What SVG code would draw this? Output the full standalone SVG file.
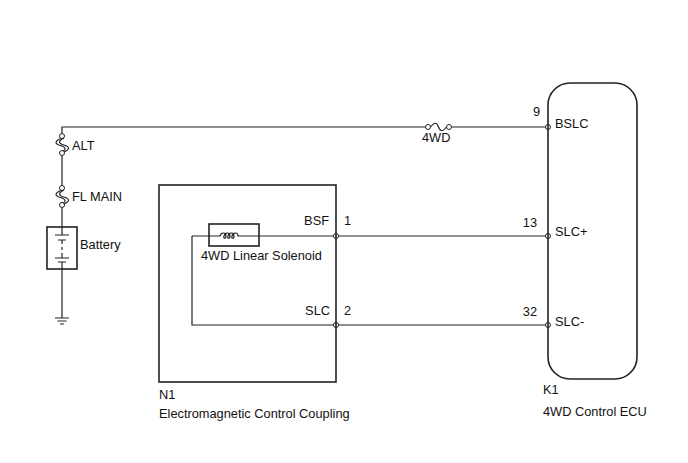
<svg xmlns="http://www.w3.org/2000/svg" width="688" height="463" viewBox="0 0 688 463">
<style>
.w{fill:none;stroke:#222;stroke-width:1.2}
.b{fill:none;stroke:#222;stroke-width:1.6}
.pin{fill:#fff;stroke:#222;stroke-width:1}
text{font-family:"Liberation Sans",Arial,sans-serif;font-size:12.8px;fill:#111}
.r{text-anchor:end}
</style>
<defs>
<g id="vfuse">
<circle class="pin" cx="0" cy="0" r="2.5"/>
<path class="w" d="M-1.5,2.5 c-6,3 -6,5 0,7 c6,2 6,4 0,7 M2,2 c-6,3 -6,5 0,7 c6,2 6,4 0,7"/>
<circle class="pin" cx="0" cy="17" r="2.5"/>
</g>
</defs>
<rect width="688" height="463" fill="#fff"/>
<g id="connectors">
<path class="w" d="M62,133.5 V127 H425.5 M430.5,127 c4,-5 6,-5 8,0 c2,5 4,5 8,0 M451.5,127 H545.5"/>
<path class="w" d="M62,155.5 V185.5 M62,207.5 V227 M62,269 V318"/>
<path class="w" d="M192,236 H209 M259,236 H545.5 M192,236 V325 H545.5"/>
<circle class="pin" cx="428" cy="127" r="2.5"/>
<circle class="pin" cx="449" cy="127" r="2.5"/>
<circle class="pin" cx="548" cy="127" r="2.5"/>
<circle class="pin" cx="336" cy="236" r="2.5"/>
<circle class="pin" cx="548" cy="236" r="2.5"/>
<circle class="pin" cx="336" cy="325" r="2.5"/>
<circle class="pin" cx="548" cy="325" r="2.5"/>
</g>
<g id="fuse-4wd">
<text x="422" y="142">4WD</text>
</g>
<g id="fuse-alt">
<use href="#vfuse" x="62" y="136"/>
<text x="72" y="150">ALT</text>
</g>
<g id="fuse-flmain">
<use href="#vfuse" x="62" y="188"/>
<text x="72" y="201">FL MAIN</text>
</g>
<g id="battery">
<rect class="b" x="47" y="227" width="30" height="42"/>
<path class="w" d="M62,227 V235 M55,235 H69 M58,240 H66 M62,240 V244 M62,247 V250 M62,253 V258 M55,258 H69 M58,262 H66 M62,262 V269"/>
<text x="80" y="249">Battery</text>
</g>
<g id="ground">
<path class="w" d="M55,318 H69 M57.5,321 H66.5 M60,324 H64"/>
</g>
<g id="N1">
<rect class="b" x="159" y="185" width="177" height="197"/>
<text class="r" x="329" y="225">BSF</text>
<text x="344" y="225">1</text>
<text class="r" x="330" y="315">SLC</text>
<text x="344" y="315">2</text>
<text x="159" y="399">N1</text>
<text x="159" y="418">Electromagnetic Control Coupling</text>
</g>
<g id="solenoid">
<rect class="b" x="209" y="224" width="50" height="22"/>
<path class="w" d="M209,236 H220 c1,-4 6,-4 6,0 c0,3 -3,3 -2,0 c1,-4 6,-4 6,0 c0,3 -3,3 -2,0 c1,-4 6,-4 6,0 c0,3 -3,3 -2,0 c1,-4 6,-4 6,0 H259"/>
<text x="201" y="260">4WD Linear Solenoid</text>
</g>
<g id="K1">
<rect class="b" x="548" y="83" width="89" height="296" rx="22" ry="22"/>
<text class="r" x="540" y="116">9</text>
<text x="555" y="128">BSLC</text>
<text class="r" x="537" y="227">13</text>
<text x="555" y="236">SLC+</text>
<text class="r" x="537" y="316">32</text>
<text x="555" y="326">SLC-</text>
<text x="543" y="394">K1</text>
<text x="543" y="416">4WD Control ECU</text>
</g>
</svg>
